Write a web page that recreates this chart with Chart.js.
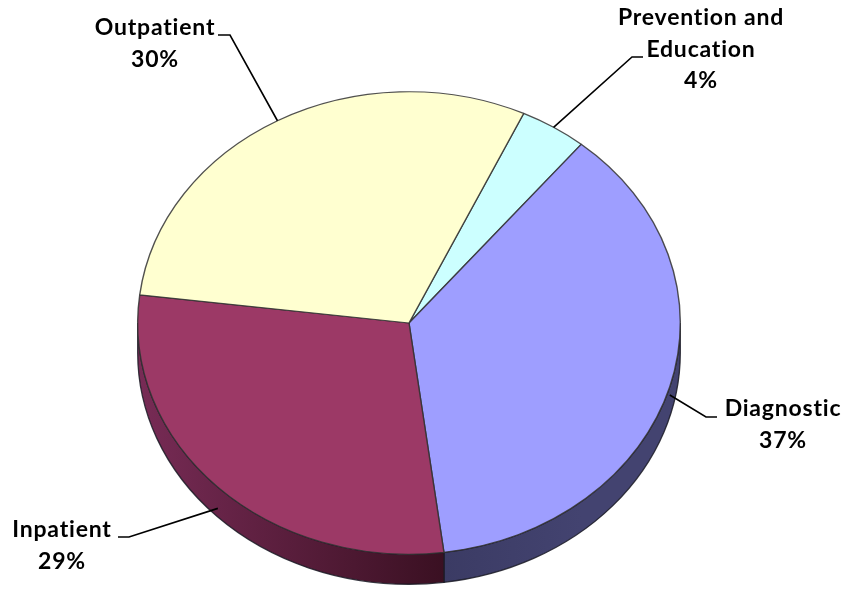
<!DOCTYPE html>
<html>
<head>
<meta charset="utf-8">
<script src="https://cdn.jsdelivr.net/npm/chart.js@4.4.1/dist/chart.umd.min.js"></script>
<style>
  html, body { margin: 0; padding: 0; background: #ffffff; }
  canvas { display: block; }
</style>
</head>
<body>
<canvas id="chart" width="843" height="590"></canvas>
<script>
// Spending by category (percent of total)
const categories = ['Prevention and Education', 'Diagnostic', 'Inpatient', 'Outpatient'];
const shares = [4, 37, 29, 30];
const labelLines = [['Prevention and', 'Education'], ['Diagnostic'], ['Inpatient'], ['Outpatient']];

// Slice styling
const faceColors = ['#ccffff', '#9e9eff', '#9c3966', '#ffffd0'];
const sideColors = [['#5f8080', '#4d6a6a'], ['#434370', '#3b3b64'], ['#3a1022', '#772b55'], ['#8a8a66', '#6e6e50']];

// Where each label's text block sits, and where its leader line starts
const labelLayout = [
  { x: 701, y: 25, from: [643, 57], stub: -11 },
  { x: 783, y: 416, from: [717, 417], stub: -11 },
  { x: 62, y: 537, from: [118, 537], stub: 11 },
  { x: 155, y: 35, from: [218, 35], stub: 12 }
];

const tilt = 231 / 271;     // vertical squash of the pie top
const depth = 30;           // thickness of the pie wall
const centreY = 323;        // vertical centre of the tilted top face

function wallPath(ctx, cx, ey, rx, ry, d, lo, hi) {
  ctx.beginPath();
  ctx.ellipse(cx, ey, rx, ry, 0, lo, hi, false);
  ctx.ellipse(cx, ey + d, rx, ry, 0, hi, lo, true);
  ctx.closePath();
}

const pie3d = {
  id: 'pie3d',
  beforeDatasetsDraw(chart) {
    const ctx = chart.ctx;
    const meta = chart.getDatasetMeta(0);
    const arcs = meta.data;
    if (!arcs.length) return;
    const cx = arcs[0].x, cy = arcs[0].y, R = arcs[0].outerRadius;
    const rx = R, ry = R * tilt;
    const TWO_PI = Math.PI * 2;
    // front wall: the part of each slice's rim facing the viewer
    arcs.forEach((arc, i) => {
      const { startAngle, endAngle } = arc;
      for (let k = -1; k <= 1; k++) {
        const lo = Math.max(startAngle, TWO_PI * k);
        const hi = Math.min(endAngle, Math.PI + TWO_PI * k);
        if (hi <= lo) continue;
        const x0 = cx + rx * Math.cos(startAngle), x1 = cx + rx * Math.cos(endAngle);
        const g = ctx.createLinearGradient(x0, 0, x1 === x0 ? x0 + 1 : x1, 0);
        g.addColorStop(0, sideColors[i][0]);
        g.addColorStop(1, sideColors[i][1]);
        ctx.save();
        wallPath(ctx, cx, centreY, rx, ry, depth, lo, hi);
        ctx.fillStyle = g;
        ctx.fill();
        ctx.lineWidth = 1.3;
        ctx.strokeStyle = 'rgba(25,25,35,0.85)';
        ctx.stroke();
        ctx.restore();
      }
    });
    // squash the library's slices into the tilted top face
    ctx.save();
    ctx.translate(0, centreY);
    ctx.scale(1, tilt);
    ctx.translate(0, -cy);
  },
  afterDatasetsDraw(chart) {
    chart.ctx.restore();
  }
};

const pieLabels = {
  id: 'pieLabels',
  afterDraw(chart) {
    const ctx = chart.ctx;
    const meta = chart.getDatasetMeta(0);
    const arcs = meta.data;
    if (!arcs.length) return;
    const cx = arcs[0].x, R = arcs[0].outerRadius;
    const rx = R, ry = R * tilt;
    const total = shares.reduce((a, b) => a + b, 0);
    ctx.save();
    arcs.forEach((arc, i) => {
      const lay = labelLayout[i];
      const mid = (arc.startAngle + arc.endAngle) / 2;
      const s = Math.sin(mid);
      const ax = cx + rx * Math.cos(mid);
      const ay = centreY + ry * s + (s > 0 ? depth * s : 0);
      // leader line
      ctx.beginPath();
      ctx.moveTo(lay.from[0], lay.from[1]);
      ctx.lineTo(lay.from[0] + lay.stub, lay.from[1]);
      ctx.lineTo(ax, ay);
      ctx.lineWidth = 1.6;
      ctx.strokeStyle = '#000000';
      ctx.stroke();
      // text
      const lines = labelLines[i].concat([Math.round(shares[i] / total * 100) + '%']);
      ctx.font = 'bold 23px Lato';
      ctx.letterSpacing = '0.8px';
      ctx.fillStyle = '#000000';
      ctx.textAlign = 'center';
      ctx.textBaseline = 'alphabetic';
      lines.forEach((t, j) => ctx.fillText(t, lay.x, lay.y + j * 31.5));
    });
    ctx.restore();
  }
};

new Chart(document.getElementById('chart'), {
  type: 'pie',
  data: {
    labels: categories,
    datasets: [{
      data: shares,
      backgroundColor: faceColors,
      borderColor: 'rgba(50,50,50,0.85)',
      borderWidth: 1.4,
      clip: false
    }]
  },
  options: {
    responsive: false,
    animation: false,
    events: [],
    rotation: 25,
    layout: { padding: { left: 137, right: 162, top: 0, bottom: 0 } },
    plugins: {
      legend: { display: false },
      tooltip: { enabled: false },
      title: { display: false }
    }
  },
  plugins: [pie3d, pieLabels]
});
</script>
</body>
</html>
